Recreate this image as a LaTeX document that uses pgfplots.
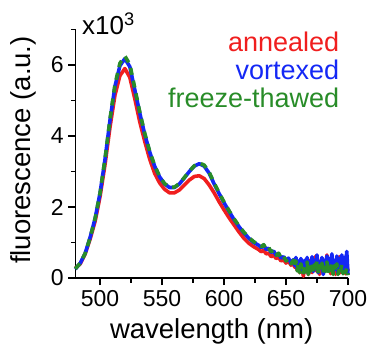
\documentclass[border=0pt]{standalone}
\usepackage{pgfplots}
\pgfplotsset{compat=1.18}
\usepackage{fontspec}
\setmainfont{Liberation Sans}
\definecolor{cred}{RGB}{240,30,30}
\definecolor{cblue}{RGB}{20,40,245}
\definecolor{cgreen}{RGB}{40,140,40}
\begin{document}
\begin{tikzpicture}
\useasboundingbox (-75.3pt,-67pt) rectangle (295.7pt,278pt);
\begin{axis}[
  at={(0pt,0pt)}, anchor=origin,
  scale only axis, width=272.7pt, height=248.5pt,
  xmin=480, xmax=700, ymin=0, ymax=7,
  axis x line*=bottom, axis y line*=left,
  axis line style={line width=1.6pt},
  xtick={500,550,...,700}, ytick={0,2,4,6},
  minor x tick num=1, minor y tick num=1,
  extra y ticks={7}, extra y tick labels={},
  extra y tick style={major tick length=4.5pt},
  tick style={line width=1.4pt, black},
  major tick length=7pt, minor tick length=4.5pt,
  tick align=outside,
  /pgf/number format/assume math mode=true,
  ticklabel style={font=\fontsize{23}{23}\selectfont},
  xticklabel style={yshift=-2pt},
  yticklabel style={xshift=-1pt},
  xlabel={wavelength (nm)}, ylabel={fluorescence (a.u.)},
  label style={font=\fontsize{27.5}{27.5}\selectfont},
  xlabel style={at={(axis description cs:0.5,-0.216)}, anchor=center},
  ylabel style={at={(axis description cs:-0.192,0.515)}, anchor=center, rotate=0},
  clip=false,
  line join=round,
]
\addplot[cred, line width=3.6pt] coordinates {
(480,0.27)(484,0.40)(488,0.68)(492,1.10)(496,1.60)(500,2.30)(504,3.20)(508,4.25)(512,5.15)(516,5.70)(520,5.90)(524,5.65)(528,5.05)(532,4.40)(536,3.85)(540,3.35)(544,2.95)(548,2.68)(552,2.50)(556,2.40)(560,2.40)(564,2.48)(568,2.62)(572,2.76)(576,2.86)(580,2.88)(584,2.80)(588,2.62)(592,2.40)(596,2.15)(600,1.92)(604,1.70)(608,1.50)(612,1.30)(616,1.12)(620,0.98)(624,0.88)(628,0.80)(630,0.74)(632,0.78)(634,0.68)(636,0.70)(638,0.60)(640,0.64)(642,0.55)(644,0.58)(646,0.48)(648,0.52)(650,0.42)(652,0.48)(654,0.36)(656,0.44)
(657,0.30)(658,0.45)(659,0.22)(660,0.38)(661,0.15)(662,0.42)(663,0.25)(664,0.05)(665,0.35)(666,0.18)(667,0.48)(668,0.10)(669,0.30)(670,0.52)(671,0.15)(672,0.40)(673,0.22)(674,0.62)(675,0.18)(676,0.40)(677,0.10)(678,0.50)(679,0.28)(680,0.15)(681,0.45)(682,0.30)(683,0.65)(684,0.20)(685,0.42)(686,0.12)(687,0.55)(688,0.25)(689,0.40)(690,0.10)(691,0.48)(692,0.30)(693,0.60)(694,0.15)(695,0.42)(696,0.20)(697,0.50)(698,0.12)(699,0.38)(700,0.20)
};
\addplot[cblue, line width=3.6pt] coordinates {
(480,0.25)(484,0.42)(488,0.70)(492,1.15)(496,1.68)(500,2.40)(504,3.35)(508,4.45)(512,5.40)(516,5.98)(520,6.18)(524,5.95)(528,5.30)(532,4.65)(536,4.05)(540,3.55)(544,3.15)(548,2.85)(552,2.65)(556,2.55)(560,2.55)(564,2.65)(568,2.82)(572,3.00)(576,3.15)(580,3.22)(584,3.15)(588,2.95)(592,2.65)(596,2.38)(600,2.12)(604,1.88)(608,1.65)(612,1.45)(616,1.27)(620,1.12)(624,1.00)(628,0.92)(630,0.86)(632,0.92)(634,0.80)(636,0.84)(638,0.72)(640,0.76)(642,0.64)(644,0.68)(646,0.56)(648,0.60)(650,0.50)(652,0.56)(654,0.42)(656,0.52)
(657,0.35)(658,0.58)(659,0.25)(660,0.48)(661,0.20)(662,0.55)(663,0.30)(664,0.15)(665,0.50)(666,0.22)(667,0.58)(668,0.12)(669,0.45)(670,0.30)(671,0.60)(672,0.18)(673,0.50)(674,0.25)(675,0.65)(676,0.15)(677,0.45)(678,0.30)(679,0.58)(680,0.10)(681,0.50)(682,0.25)(683,0.62)(684,0.20)(685,0.55)(686,0.35)(687,0.68)(688,0.15)(689,0.50)(690,0.25)(691,0.62)(692,0.12)(693,0.55)(694,0.30)(695,0.65)(696,0.18)(697,0.58)(698,0.30)(699,0.75)(700,0.10)
};
\addplot[cgreen, line width=3.6pt, dash pattern=on 7pt off 6pt] coordinates {
(480,0.26)(484,0.42)(488,0.70)(492,1.14)(496,1.68)(500,2.40)(504,3.36)(508,4.48)(512,5.45)(516,6.05)(520,6.25)(524,6.02)(528,5.35)(532,4.68)(536,4.08)(540,3.57)(544,3.17)(548,2.86)(552,2.66)(556,2.56)(560,2.56)(564,2.66)(568,2.83)(572,3.01)(576,3.16)(580,3.24)(584,3.18)(588,2.98)(592,2.68)(596,2.40)(600,2.14)(604,1.90)(608,1.67)(612,1.47)(616,1.29)(620,1.14)(624,1.02)(628,0.94)(630,0.88)(632,0.94)(634,0.80)(636,0.86)(638,0.74)(640,0.78)(642,0.64)(644,0.70)(646,0.56)(648,0.62)(650,0.48)(652,0.54)(654,0.40)(656,0.50)
(657,0.32)(658,0.48)(659,0.20)(660,0.42)(661,0.15)(662,0.40)(663,0.22)(664,0.10)(665,0.38)(666,0.18)(667,0.45)(668,0.10)(669,0.35)(670,0.20)(671,0.45)(672,0.12)(673,0.38)(674,0.22)(675,0.48)(676,0.12)(677,0.35)(678,0.20)(679,0.42)(680,0.15)(681,0.40)(682,0.18)(683,0.45)(684,0.12)(685,0.38)(686,0.22)(687,0.42)(688,0.10)(689,0.35)(690,0.18)(691,0.40)(692,0.10)(693,0.32)(694,0.20)(695,0.38)(696,0.12)(697,0.30)(698,0.15)(699,0.28)(700,0.08)
};
\node[anchor=east, text=cred, font=\fontsize{27}{27}\selectfont, inner sep=0pt] at (axis cs:693,6.65) {annealed};
\node[anchor=east, text=cblue, font=\fontsize{27}{27}\selectfont, inner sep=0pt] at (axis cs:693,5.86) {vortexed};
\node[anchor=east, text=cgreen, font=\fontsize{27}{27}\selectfont, inner sep=0pt] at (axis cs:693,5.07) {freeze-thawed};
\node[anchor=base west, font=\fontsize{26}{26}\selectfont, inner sep=0pt] at (axis cs:485.4,6.87) {x10\textsuperscript{3}};
\end{axis}
\end{tikzpicture}
\end{document}
